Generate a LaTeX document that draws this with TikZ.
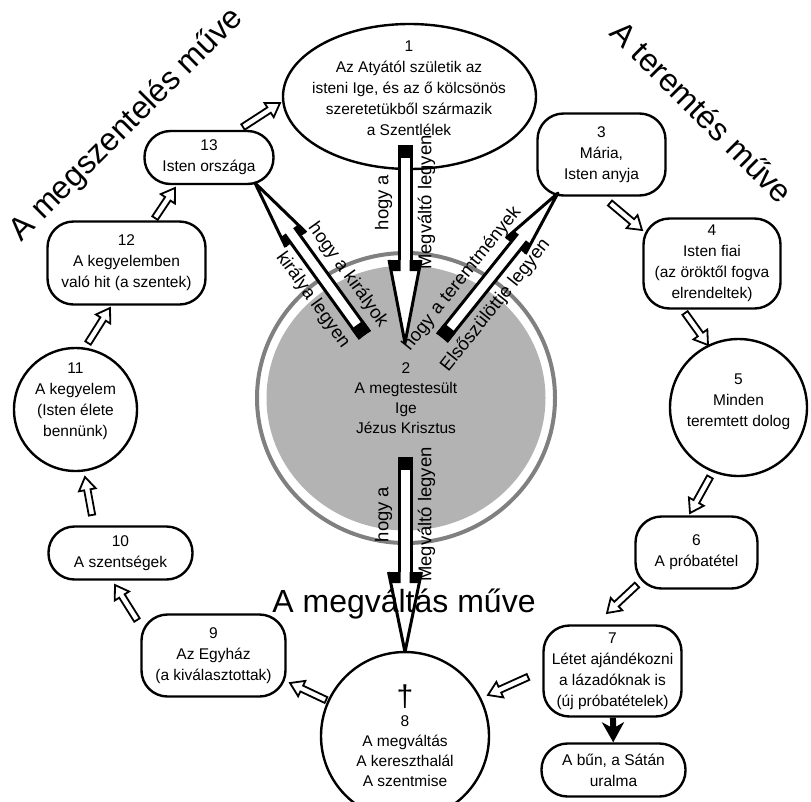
\documentclass[tikz,border=0pt]{standalone}
\usepackage{fontspec}
\setmainfont{Liberation Sans}
\usetikzlibrary{shapes.geometric,arrows.meta,calc}

\definecolor{ringgray}{RGB}{128,128,128}
\definecolor{diskgray}{RGB}{179,179,179}

\newcommand\nodefont{\fontsize{15.5}{21}\selectfont}
\newcommand\twofont{\fontsize{15.5}{20}\selectfont}
\newcommand\lblfont{\fontsize{18.5}{20}\selectfont}
\newcommand\titlefont{\fontsize{32}{34}\selectfont}
\newcommand\crossfont{\fontsize{30}{26}\selectfont}

\tikzset{
  box/.style={draw, line width=2.4pt, rounded corners=26pt, align=center, font=\nodefont, inner sep=0pt},
  bubble/.style={draw, line width=2.4pt, circle, align=center, font=\nodefont, inner sep=0pt},
  txt/.style={align=center, font=\nodefont, inner sep=0pt},
  lbl/.style={font=\lblfont, inner sep=0pt},
  title/.style={font=\titlefont, inner sep=0pt, anchor=base},
}

% direction and length between two named points
\newcommand\setdir[2]{%
  \pgfpointdiff{\pgfpointanchor{#1}{center}}{\pgfpointanchor{#2}{center}}%
  \pgfgetlastxy{\dirx}{\diry}%
  \pgfmathsetmacro\dirang{atan2(\diry,\dirx)}%
  \pgfmathsetmacro\dirlen{veclen(\dirx,\diry)}%
  \pgfmathsetmacro\txtang{\dirang>89 ? \dirang-180 : (\dirang<-89 ? \dirang+180 : \dirang)}%
}

% small white block arrow
\newcommand\blockarr[2]{%
  \setdir{#1}{#2}%
  \begin{scope}[shift={(#1)}, rotate=\dirang, x=1pt, y=1pt]
    \filldraw[fill=white, line width=1.8pt] (0,-3.2) -- (\dirlen-13,-3.2) -- (\dirlen-13,-8.5)
      -- (\dirlen,0) -- (\dirlen-13,8.5) -- (\dirlen-13,3.2) -- (0,3.2) -- cycle;
  \end{scope}}

% big arrow: from, to, head length, head half width, label left, label right
\newcommand\bigarr[6]{%
  \setdir{#1}{#2}%
  \begin{scope}[shift={(#1)}, rotate=\dirang, x=1pt, y=1pt]
    \fill[white] (0,-6) rectangle (\dirlen-#3,6);
    \fill[white] (\dirlen-#3,-#4) -- (\dirlen,0) -- (\dirlen-#3,#4) -- cycle;
    \fill (0,-7.5) rectangle (13,7.5);
    \draw[line width=3pt] (0,6) -- (\dirlen-#3,6) (0,-6) -- (\dirlen-#3,-6);
    \fill (\dirlen-#3,4.5) -- (\dirlen-#3,#4) -- (\dirlen-#3+11,{#4*(1-11/#3)}) -- (\dirlen-#3+11,4.5) -- cycle;
    \fill (\dirlen-#3,-4.5) -- (\dirlen-#3,-#4) -- (\dirlen-#3+11,{-#4*(1-11/#3)}) -- (\dirlen-#3+11,-4.5) -- cycle;
    \draw[line width=3pt, line join=round] (\dirlen-#3,#4) -- (\dirlen,0) -- (\dirlen-#3,-#4);
    \node[lbl, rotate=\txtang] at ({(\dirlen-#3)/2},21.5) {#5};
    \node[lbl, rotate=\txtang] at ({(\dirlen-#3)/2},-21.5) {#6};
  \end{scope}}

\begin{document}
\begin{tikzpicture}[x=1pt, y=-1pt]
\useasboundingbox (0,0) rectangle (811,801);

% the incarnate Word
\node[ellipse, fill=diskgray, minimum width=279, minimum height=265, inner sep=0pt,
  align=center, font=\twofont] (n2) at (406,398) {2\\A megtestesült\\Ige\\Jézus Krisztus};
\draw[ringgray, line width=4pt] (n2.center) ellipse [x radius=149, y radius=145];

\node[draw, ellipse, line width=2.4pt, minimum width=253, minimum height=145] (n1) at (409.5,96.5) {};
\node[txt] (n1t) at (409,88) {1\\Az Atyától születik az\\isteni Ige, és az ő kölcsönös\\szeretetükből származik\\a Szentlélek};

\node[box, minimum width=128, minimum height=82] (n3) at (601.5,154.5) {3\\Mária,\\Isten anyja};
\node[box, minimum width=137, minimum height=90] (n4) at (712,263.5) {4\\Isten fiai\\(az öröktől fogva\\elrendeltek)};
\node[bubble, minimum size=137] (n5) at (738.5,407.5) {};
\node[txt] (n5t) at (738.5,402) {5\\Minden\\teremtett dolog};
\node[box, minimum width=122, minimum height=72] (n6) at (696.5,552.5) {6\\A próbatétel};
\node[box, minimum width=138, minimum height=91] (n7) at (612.5,671) {7\\Létet ajándékozni\\a lázadóknak is\\(új próbatételek)};
\node[box, minimum width=144, minimum height=53] (n15) at (613.5,770) {A bűn, a Sátán\\uralma};
\node[bubble, minimum size=168, font=\twofont] (n8) at (405,736) {{\crossfont †}\\8\\A megváltás\\A kereszthalál\\A szentmise};
\node[box, minimum width=144, minimum height=82] (n9) at (213.5,655.5) {9\\Az Egyház\\(a kiválasztottak)};
\node[box, minimum width=144, minimum height=53] (n10) at (120.5,553) {10\\A szentségek};
\node[bubble, minimum size=123] (n11) at (75.5,409.5) {};
\node[txt] (n11t) at (75.5,401) {11\\A kegyelem\\(Isten élete\\bennünk)};
\node[box, minimum width=158, minimum height=83] (n12) at (126.5,263) {12\\A kegyelemben\\való hit (a szentek)};
\node[box, minimum width=129, minimum height=53] (n13) at (209,157.5) {13\\Isten országa};

% ends of the small arrows
\coordinate (a1) at (243,127);  \coordinate (b1) at (280,103);
\coordinate (a2) at (155,218);  \coordinate (b2) at (175,188);
\coordinate (a3) at (88,343);   \coordinate (b3) at (110,308);
\coordinate (a4) at (92,515);   \coordinate (b4) at (85,477);
\coordinate (a5) at (137,620);  \coordinate (b5) at (115,585);
\coordinate (a6) at (326,700);  \coordinate (b6) at (290,683);
\coordinate (a7) at (528,677);  \coordinate (b7) at (488,695);
\coordinate (a8) at (637,585);  \coordinate (b8) at (607,613);
\coordinate (a9) at (710,477);  \coordinate (b9) at (690,513);
\coordinate (a10) at (685,313); \coordinate (b10) at (708,345);
\coordinate (a11) at (610,203); \coordinate (b11) at (642,230);
\foreach \i in {1,...,11}{\blockarr{a\i}{b\i}}

\draw[line width=6pt, -{Stealth[length=20pt, width=22pt, inset=6pt]}] (n7) -- (n15);

% ends of the big arrows
\coordinate (t1) at (405,145);     \coordinate (h1) at (405,343);
\coordinate (t2) at (405,457);     \coordinate (h2) at (405,652);
\coordinate (t3) at (364.8,335.3); \coordinate (h3) at (255,183);
\coordinate (t4) at (442,338);     \coordinate (h4) at (558,193);
\bigarr{t1}{h1}{83}{16}{Megváltó legyen}{hogy a}
\bigarr{t2}{h2}{80}{16.5}{Megváltó legyen}{hogy a}
\bigarr{t3}{h3}{70}{12.5}{királya legyen}{hogy a királyok}
\bigarr{t4}{h4}{68}{12.5}{hogy a teremtmények}{Elsőszülöttje legyen}

\node[title, rotate=45] (tsanct) at (133,131) {A megszentelés műve};
\node[title, rotate=-45] (tcreat) at (694,120) {A teremtés műve};
\node[title] (tredem) at (404,612) {A megváltás műve};
\end{tikzpicture}
\end{document}
